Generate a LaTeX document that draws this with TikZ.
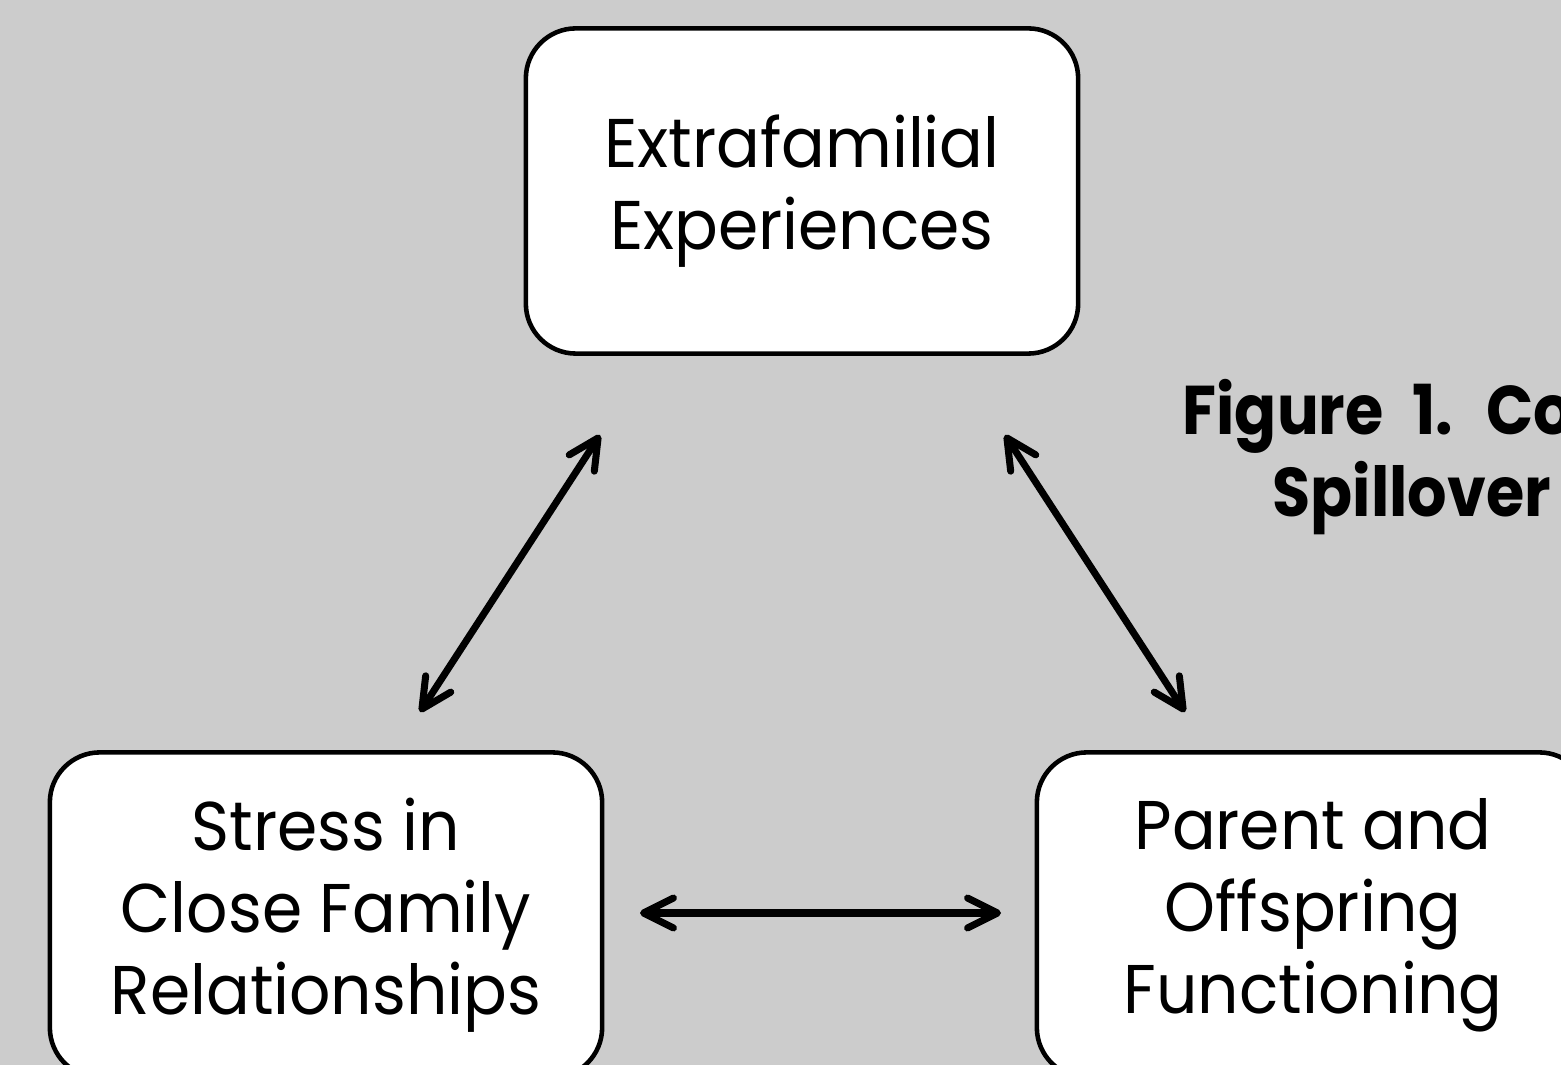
\documentclass[tikz,border=0pt]{standalone}
\usepackage{fontspec}
\setmainfont{Poppins}[FakeStretch=0.94]
\newfontfamily\titlefont{Poppins}[FakeStretch=0.9, WordSpace=2.2]
\usetikzlibrary{arrows.meta}
\definecolor{bg}{RGB}{204,204,204}
\begin{document}
\begin{tikzpicture}[x=0.01cm,y=-0.01cm,
  box/.style={draw=black, line width=1.3pt, fill=white, rounded corners=0.5cm,
    minimum width=5.52cm, minimum height=3.25cm, align=center,
    font=\fontsize{19.6}{23.3}\selectfont, inner sep=0pt},
  barb/.tip={Straight Barb[length=8.5pt,width=8.5pt,line cap=round,line join=round]},
  link/.style={line width=2pt, line cap=round, barb-barb},
  titletext/.style={anchor=base west, font=\fontsize{19.6}{23.3}\titlefont\bfseries, inner sep=0pt}]
\useasboundingbox (0,0) rectangle (1561,1065);
\clip (0,0) rectangle (1561,1065);
\fill[bg] (0,0) rectangle (1561,1065);

\node[box] (extra) at (802,191) {Extrafamilial\\Experiences};
\node[box] (stress) at (326,915) {Stress in\\Close Family\\Relationships};
\node[box] (parent) at (1313,915) {Parent and\\Offspring\\Functioning};

\node[titletext] (title1) at (1182,435) {Figure 1. Co};
\node[titletext] (title2) at (1272,517) {Spillover};

\coordinate (a1) at (600,435);
\coordinate (a2) at (420,712);
\coordinate (b1) at (1005,435);
\coordinate (b2) at (1185,712);
\coordinate (c1) at (640,913);
\coordinate (c2) at (1001,913);

\draw[link] (a1) -- (a2);
\draw[link] (b1) -- (b2);
\draw[link] (c1) -- (c2);
\end{tikzpicture}
\end{document}
